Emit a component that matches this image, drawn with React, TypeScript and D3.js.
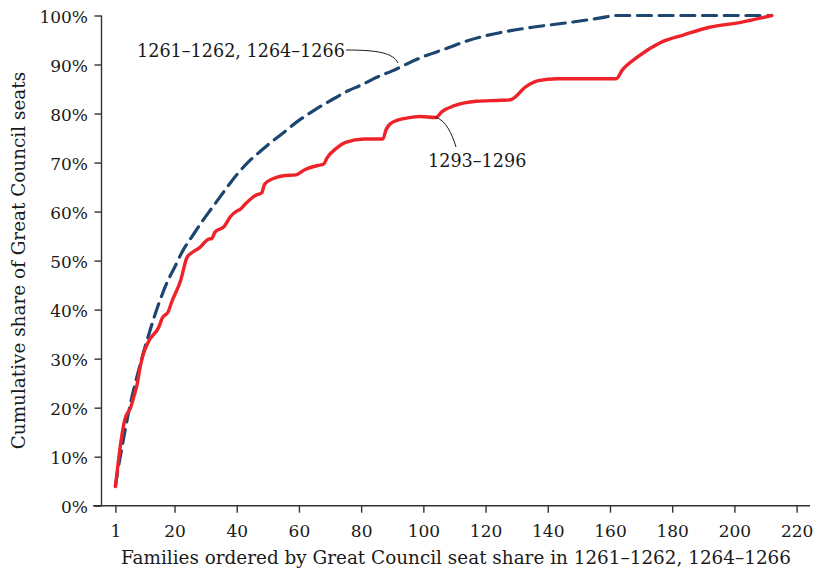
import React, { useEffect, useRef } from 'react';
import * as d3 from 'd3';

// families (x) and cumulative share (%)
const earlyX = [1, 2, 3, 4, 5, 6, 8, 10, 12, 15, 18, 20, 23, 25, 29, 32, 35, 38, 40, 44, 48, 50, 55, 60, 65, 70, 76, 80, 85, 90, 95, 100, 108, 114, 119, 128, 135, 146, 157, 162, 212];
const earlyY = [4, 8, 11.5, 15, 18.3, 21.3, 26.5, 31.2, 35.5, 41.3, 46.1, 48.6, 52.4, 54.3, 58.1, 60.7, 63.3, 65.9, 67.5, 70.3, 72.5, 73.6, 76.1, 78.6, 80.7, 82.6, 84.7, 85.8, 87.4, 88.7, 90.2, 91.6, 93.4, 94.8, 95.7, 96.9, 97.6, 98.5, 99.5, 100, 100];

const lateX = [1, 2, 3, 4, 6, 7, 8, 9, 10, 11, 12, 15, 16, 18, 19, 22, 24, 26, 28, 31, 32, 33, 36, 38, 40, 41, 43, 46, 48, 49, 52, 55, 59, 62, 66, 68, 69, 72, 75, 81, 87, 88, 90, 95, 99, 104, 106, 110, 117, 125, 128, 133, 137, 143, 162, 164, 169, 176, 184, 192, 202, 212];
const lateY = [3.9, 9.3, 14, 17.5, 20.2, 22.4, 24.8, 28.4, 31, 32.6, 33.9, 36.5, 38.2, 39.6, 41.4, 46, 50.6, 51.8, 52.6, 54.4, 54.5, 55.8, 57, 59, 60.1, 60.4, 61.7, 63.3, 63.8, 65.6, 66.8, 67.3, 67.5, 68.6, 69.4, 69.7, 70.9, 72.9, 74.1, 74.8, 74.8, 76.7, 78.2, 79.1, 79.4, 79.2, 80.4, 81.6, 82.5, 82.7, 82.8, 85.5, 86.7, 87.1, 87.1, 88.9, 91.6, 94.4, 96.1, 97.6, 98.6, 100];

const xTicks = [1, 20, 40, 60, 80, 100, 120, 140, 160, 180, 200, 220];
const yTicks = [0, 10, 20, 30, 40, 50, 60, 70, 80, 90, 100];

const earlyLabel = '1261\u20131262, 1264\u20131266';
const lateLabel = '1293\u20131296';
const xTitle = 'Families ordered by Great Council seat share in 1261\u20131262, 1264\u20131266';
const yTitle = 'Cumulative share of Great Council seats';

const W = 815;
const H = 571;
const FONT = '"DejaVu Serif", serif';
const INK = '#1a1a1a';

export default function App() {
  const svgRef = useRef<SVGSVGElement>(null);

  useEffect(() => {
    if (!svgRef.current) return;
    const svg = d3.select(svgRef.current);
    svg.selectAll('*').remove();

    const x = d3.scaleLinear().domain([0, 220]).range([112.3, 796.6]);
    const y = d3.scaleLinear().domain([0, 100]).range([505.7, 15.5]);
    const axisColor = '#333';

    // y axis
    const gy = svg.append('g')
      .attr('transform', 'translate(101.5,0)')
      .call(d3.axisLeft(y).tickValues(yTicks).tickSize(7).tickSizeOuter(0).tickPadding(6.5).tickFormat(d => `${d}%`));
    gy.select('.domain').remove();
    gy.append('line').attr('x1', 0).attr('x2', 0).attr('y1', y(100)).attr('y2', y(0))
      .attr('stroke', axisColor).attr('stroke-width', 1.4);
    gy.selectAll('.tick line').attr('stroke', axisColor).attr('stroke-width', 1.4);
    gy.selectAll('.tick text')
      .attr('dy', '0.42em')
      .style('font-family', FONT).style('font-size', '17px').style('fill', INK);

    // x axis
    const gx = svg.append('g')
      .attr('transform', `translate(0,${y(0)})`)
      .call(d3.axisBottom(x).tickValues(xTicks).tickSize(7).tickSizeOuter(0).tickPadding(12).tickFormat(d => String(d)));
    gx.select('.domain').remove();
    gx.append('line').attr('x1', 93).attr('x2', 810).attr('y1', 0).attr('y2', 0)
      .attr('stroke', axisColor).attr('stroke-width', 1.4);
    gx.selectAll('.tick line').attr('stroke', axisColor).attr('stroke-width', 1.4);
    gx.selectAll('.tick text')
      .style('font-family', FONT).style('font-size', '17px').style('fill', INK);

    // titles
    svg.append('text')
      .attr('x', 456)
      .attr('y', 564)
      .attr('text-anchor', 'middle')
      .style('font-family', FONT).style('font-size', '18.4px').style('fill', INK)
      .text(xTitle);
    svg.append('text')
      .attr('transform', `translate(24.5,${(y(0) + y(100)) / 2}) rotate(-90)`)
      .attr('text-anchor', 'middle')
      .style('font-family', FONT).style('font-size', '18.4px').style('fill', INK)
      .text(yTitle);

    const line = d3.line<number>().curve(d3.curveMonotoneX);

    // 1261-1262, 1264-1266 (dashed)
    svg.append('path')
      .attr('d', line.x(i => x(earlyX[i])).y(i => y(earlyY[i]))(d3.range(earlyX.length)))
      .attr('fill', 'none')
      .attr('stroke', '#1c4570')
      .attr('stroke-width', 3.2)
      .attr('stroke-linecap', 'round')
      .attr('stroke-dasharray', '14 7.7');

    // 1293-1296
    svg.append('path')
      .attr('d', line.x(i => x(lateX[i])).y(i => y(lateY[i]))(d3.range(lateX.length)))
      .attr('fill', 'none')
      .attr('stroke', '#ee2229')
      .attr('stroke-width', 3.4)
      .attr('stroke-linejoin', 'round')
      .attr('stroke-linecap', 'round');

    // annotations
    svg.append('text')
      .attr('x', 137).attr('y', 57)
      .style('font-family', FONT).style('font-size', '17.6px').style('fill', INK)
      .text(earlyLabel);
    svg.append('path')
      .attr('d', 'M346,50 C378,50 393,53 398,63')
      .attr('fill', 'none').attr('stroke', INK).attr('stroke-width', 1);

    svg.append('text')
      .attr('x', 428).attr('y', 167)
      .style('font-family', FONT).style('font-size', '17.6px').style('fill', INK)
      .text(lateLabel);
    svg.append('path')
      .attr('d', 'M435,117 C446,120 452,134 456,147')
      .attr('fill', 'none').attr('stroke', INK).attr('stroke-width', 1);
  }, []);

  return (
    <svg
      ref={svgRef}
      width={W}
      height={H}
      style={{ position: 'absolute', left: 0, top: 0, display: 'block', background: '#fff' }}
    />
  );
}
